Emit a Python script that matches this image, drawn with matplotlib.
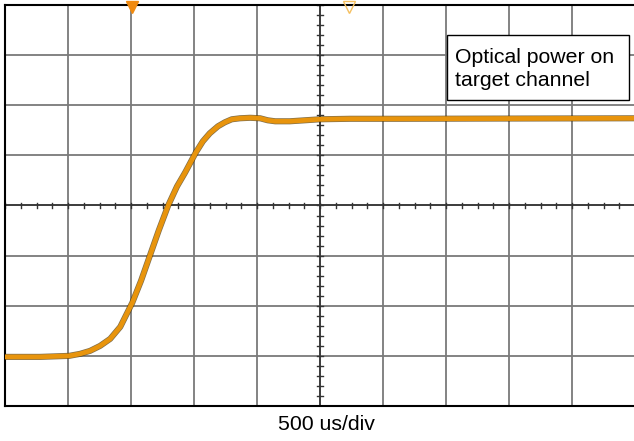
import numpy as np
import matplotlib
matplotlib.use('Agg')
from matplotlib import pyplot as plt
from matplotlib.patches import Rectangle

plt.rcParams['font.family'] = ['Liberation Sans', 'DejaVu Sans']

# trace, in divisions (x: 0..10, y: -4..4)
t_div = [0.0, 0.556, 1.016, 1.19, 1.35, 1.51, 1.67, 1.83, 2.02, 2.16, 2.30, 2.44,
         2.59, 2.73, 2.86, 3.03, 3.14, 3.25, 3.38, 3.49, 3.60, 3.73, 3.89, 4.05,
         4.17, 4.29, 4.52, 4.76, 5.0, 5.48, 6.27, 10.0]
v_div = [-3.02, -3.02, -3.0, -2.96, -2.9, -2.8, -2.66, -2.42, -1.94, -1.5, -1.0, -0.5,
         0.0, 0.38, 0.66, 1.06, 1.28, 1.44, 1.58, 1.66, 1.72, 1.74, 1.75, 1.74,
         1.70, 1.68, 1.68, 1.70, 1.72, 1.73, 1.73, 1.74]
markers_x = [2.02, 5.46]
label_box = 'Optical power on\ntarget channel'
x_label = '500 us/div'

fig = plt.figure(figsize=(6.34, 4.41), dpi=100)
ax = fig.add_axes([5 / 634, 1 - 406 / 441, 630 / 634, 401 / 441])
ax.set_xlim(0, 10)
ax.set_ylim(-4, 4)

# graticule
for gx in range(1, 10):
    ax.axvline(gx, color='#7a7a7a', lw=1.3, zorder=1)
for gy in range(-3, 4):
    ax.axhline(gy, color='#7a7a7a', lw=1.3, zorder=1)
ax.axhline(0, color='#333333', lw=1.2, zorder=1.5)
ax.axvline(5, color='#333333', lw=1.2, zorder=1.5)
for mx in np.arange(0, 10.01, 0.25):
    ax.plot([mx, mx], [-0.05, 0.05], color='#333333', lw=1, zorder=1.5)
for my in np.arange(-4, 4.01, 0.2):
    ax.plot([4.96, 5.04], [my, my], color='#333333', lw=1, zorder=1.5)

ax.set_xticks([])
ax.set_yticks([])
for s in ax.spines.values():
    s.set_linewidth(1.5)
ax.spines['right'].set_visible(False)

# trace
ax.plot(t_div, v_div, color='#4a3200', lw=4.4, alpha=0.7, zorder=3)
ax.plot(t_div, v_div, color='#e8940c', lw=3.4, zorder=4)

# trigger markers at the top
ax.plot(markers_x[0], 3.97, marker='v', color='#f08a10', ms=8, clip_on=False, zorder=5)
ax.plot(markers_x[1], 3.97, marker='v', mfc='none', mec='#f5c060', ms=8, clip_on=False, zorder=5)

# label box
ax.add_patch(Rectangle((7.016, 2.1), 2.889, 1.3, fc='white', ec='black', lw=1, zorder=6))
ax.text(7.14, 3.14, label_box, fontsize=15.3, va='top', ha='left', linespacing=1.25, zorder=7)

fig.text(326 / 634, 1 - 425 / 441, x_label, ha='center', va='center', fontsize=15.3)

fig.savefig('out.png', dpi=100)
